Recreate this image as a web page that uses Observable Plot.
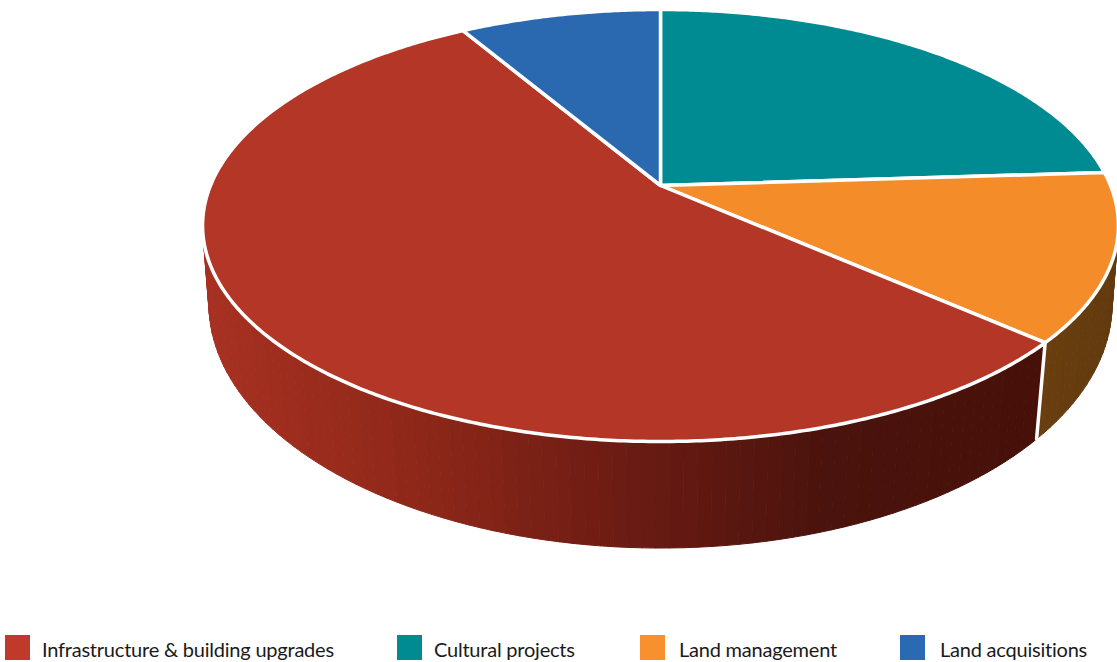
<!DOCTYPE html>
<html>
<head>
<meta charset="utf-8">
<script src="https://cdn.jsdelivr.net/npm/d3@7"></script>
<script src="https://cdn.jsdelivr.net/npm/@observablehq/plot@0.6"></script>
<style>
  html, body { margin: 0; background: #fff; }
  #chart svg { display: block; }
  #legend { position: relative; height: 37px; font: 20px Lato, sans-serif; letter-spacing: -0.22px; color: #1a1a1a; }
  #legend .swatch { position: absolute; top: 10px; width: 25px; height: 25px; }
  #legend .name { position: absolute; top: 12px; white-space: nowrap; }
</style>
</head>
<body>
<div id="chart"></div>
<div id="legend"></div>
<script>
// Share of spending by category, in percent
const categories = ["Infrastructure & building upgrades", "Cultural projects", "Land management", "Land acquisitions"];
const shares = [55, 24, 12.5, 8.5];
const topColors = ["#b43626", "#008a92", "#f58c2a", "#2a68b0"];
const keyColors = ["#bf3a2b", "#008b92", "#f8902d", "#2a6ab3"];
// Side-wall shading from the left of each wall to its right
const wallShades = [
  ["#a83122", "#8f2819", "#6d1c13", "#4a130d", "#471109"],
  ["#004f54", "#004f54"],
  ["#6a3f0f", "#623a0e"],
  ["#173f6c", "#173f6c"]
];
// Slices run clockwise from twelve o'clock in this order
const clockwiseOrder = [1, 2, 0, 3];

const width = 1117, height = 625;
const centerX = 660;

// Perspective view of a disc: top face and the lower rim of its wall
const topFace = {cy: 185, spreadX: 450, spreadY: 208.6, tilt: -0.1852};
const lowerRim = {cy: 262, spreadX: 445, spreadY: 237, tilt: -0.17};

function project(plane, angle) {
  const u = Math.sin(angle), v = -Math.cos(angle);
  const w = 1 + plane.tilt * v;
  return {x: centerX + plane.spreadX * u / w, y: plane.cy + plane.spreadY * v / w};
}

const arcs = d3.pie().sort(null).value(i => shares[i])(clockwiseOrder);
const faces = [], wallStrips = [], wallEdges = [];
const STEP = Math.PI / 180 / 2;
const BAND = Math.PI / 180 * 1.5;

for (const arc of arcs) {
  const i = arc.data;
  const span = arc.endAngle - arc.startAngle;

  // Top face of the slice
  const steps = Math.ceil(span / STEP);
  faces.push({id: i, x: centerX, y: topFace.cy, fill: topColors[i]});
  for (let k = 0; k <= steps; k++) {
    faces.push({id: i, ...project(topFace, arc.startAngle + span * k / steps), fill: topColors[i]});
  }

  // Wall strips, shaded by horizontal position
  const bands = Math.ceil(span / BAND);
  const angles = d3.range(bands + 1).map(k => arc.startAngle + span * k / bands);
  const xs = angles.map(a => project(topFace, a).x);
  const [x0, x1] = d3.extent(xs);
  const shade = d3.piecewise(d3.interpolateRgb, wallShades[i]);
  for (let k = 0; k < bands; k++) {
    const a = angles[k], b = angles[k + 1];
    const corners = [project(topFace, a), project(topFace, b), project(lowerRim, b), project(lowerRim, a)];
    const color = d3.rgb(shade((xs[k] - x0) / (x1 - x0))).formatHex();
    const id = `${i}-${k}`;
    const depth = corners[0].y;
    for (const c of corners) wallStrips.push({id, ...c, fill: color, depth});
  }

  // Seam at the start of each slice's wall
  wallEdges.push({id: i, ...project(topFace, arc.startAngle)}, {id: i, ...project(lowerRim, arc.startAngle)});
}

wallStrips.sort((p, q) => p.depth - q.depth);

document.getElementById("chart").append(Plot.plot({
  width, height,
  margin: 0,
  x: {domain: [0, width], range: [0, width], axis: null},
  y: {domain: [0, height], range: [0, height], axis: null},
  marks: [
    Plot.line(wallStrips, {x: "x", y: "y", z: "id", fill: "fill", stroke: "fill", strokeWidth: 1, curve: "linear-closed"}),
    Plot.line(wallEdges, {x: "x", y: "y", z: "id", stroke: "#fff", strokeWidth: 3.5}),
    Plot.line(faces, {x: "x", y: "y", z: "id", fill: "fill", stroke: "#fff", strokeWidth: 3.5, curve: "linear-closed"})
  ]
}));

// Legend row under the chart
const swatchLefts = [5, 397, 640, 900];
const nameLefts = [42, 434, 679, 940];
const legend = d3.select("#legend");
categories.forEach((name, i) => {
  legend.append("div").attr("class", "swatch").style("left", swatchLefts[i] + "px").style("background", keyColors[i]);
  legend.append("div").attr("class", "name").style("left", nameLefts[i] + "px").text(name);
});
</script>
</body>
</html>
